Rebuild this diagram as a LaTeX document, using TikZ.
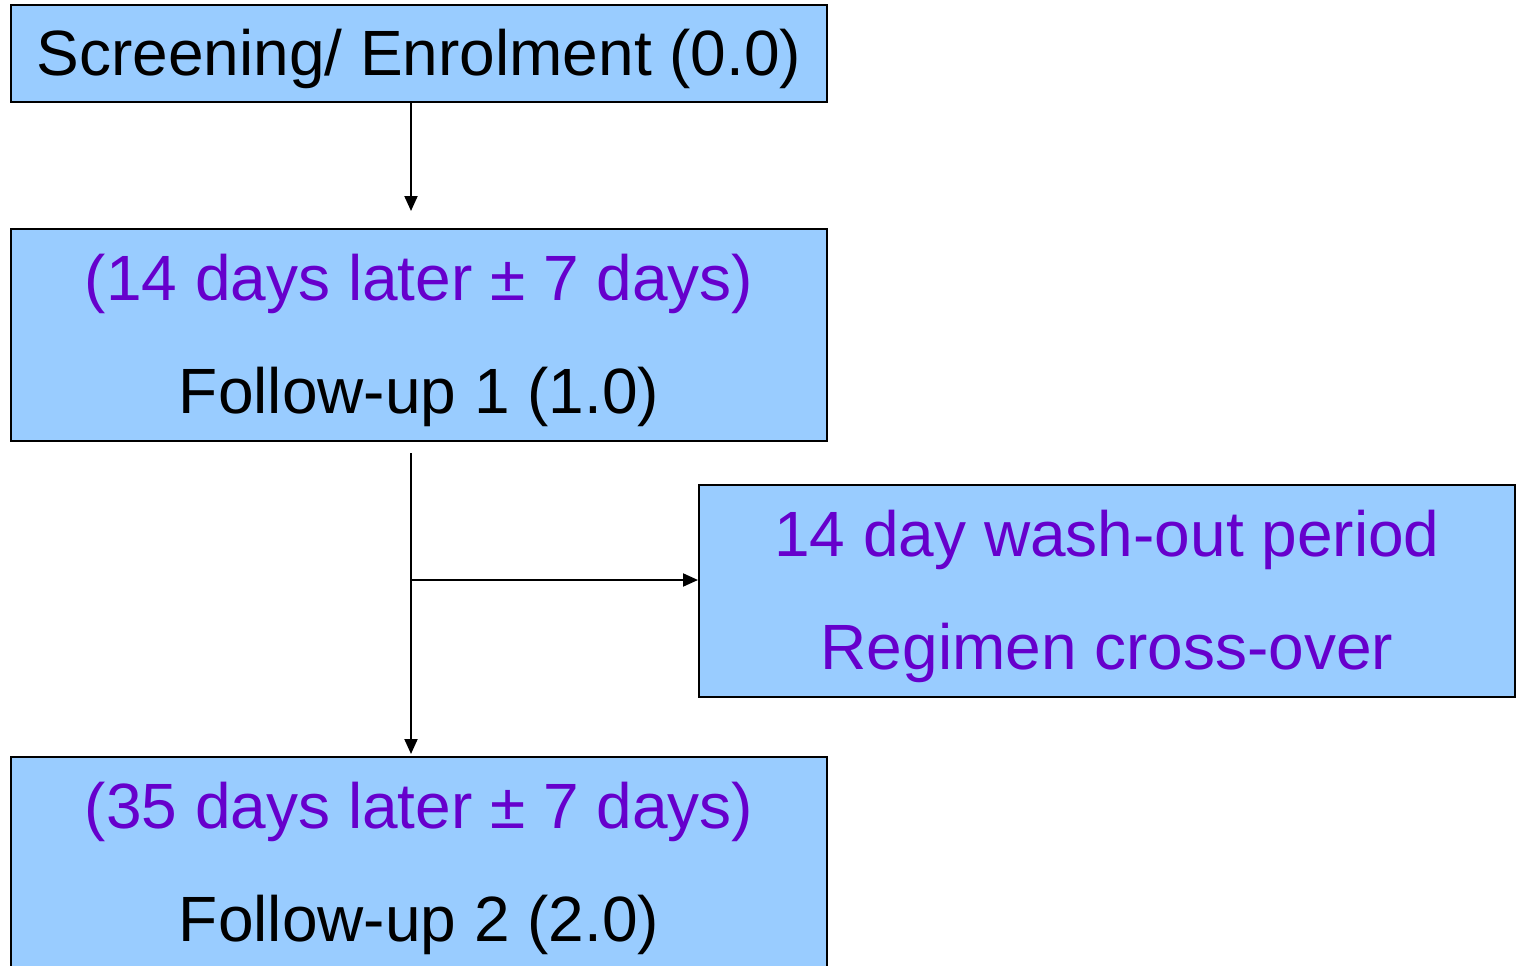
\documentclass[tikz,border=0pt]{standalone}
\usepackage{fontspec}
\setmainfont{Liberation Sans}
\usetikzlibrary{arrows.meta}
\definecolor{boxblue}{HTML}{99CCFF}
\definecolor{txtpurple}{HTML}{6600CC}
\newcommand\topstrut{\rule{0pt}{57pt}}
\tikzset{
  stagebox/.style={draw=black, line width=2pt, fill=boxblue, minimum width=816pt, inner sep=0pt, align=center, font=\fontsize{64}{113}\selectfont},
  arr/.style={line width=2pt, -{Triangle[length=15pt,width=13pt]}},
}
\begin{document}
\begin{tikzpicture}[x=1pt,y=-1pt]
\useasboundingbox (0,0) rectangle (1519,966);
\node[stagebox, minimum height=97pt] (b1) at (419,53.5) {\topstrut Screening/ Enrolment (0.0)};
\node[stagebox, minimum height=212pt] (b2) at (419,335) {\topstrut\textcolor{txtpurple}{(14 days later ± 7 days)}\\Follow-up 1 (1.0)};
\node[stagebox, minimum height=212pt, text=txtpurple] (b3) at (1107,591) {\topstrut 14 day wash-out period\\Regimen cross-over};
\node[stagebox, minimum height=212pt] (b4) at (419,863) {\topstrut\textcolor{txtpurple}{(35 days later ± 7 days)}\\Follow-up 2 (2.0)};
\coordinate (ax) at (411,0);
\coordinate (s2) at (411,453);
\coordinate (br) at (411,580);
\draw[arr] (b1.south -| ax) -- ([yshift=17pt]b2.north -| ax);
\draw[arr] (s2) -- ([yshift=2pt]b4.north -| ax);
\draw[arr] (br) -- (br -| b3.west);
\end{tikzpicture}
\end{document}
